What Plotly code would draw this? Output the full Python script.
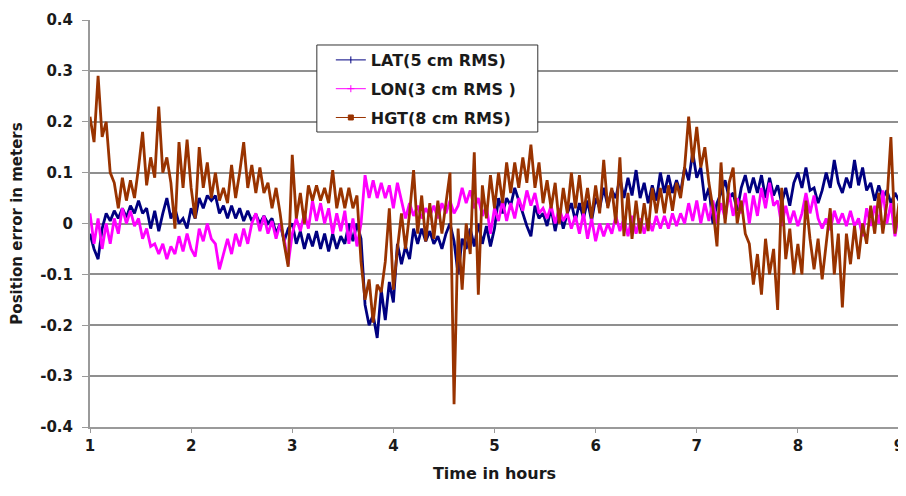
import plotly.graph_objects as go

# Sampling grid (hours) - one reading every 0.04 h
hours = [round(1 + 0.04 * i, 2) for i in range(201)]

lat_err = [
    -0.02, -0.05, -0.07, -0.01, 0.02, 0.005, 0.025, 0.01, 0.03, 0.012,
    0.035, 0.02, 0.045, 0.02, 0.03, -0.01, 0.025, -0.015, 0.02, 0.05,
    0.01, 0.03, 0.0, 0.01, -0.01, 0.03, 0.01, 0.05, 0.03, 0.055,
    0.045, 0.055, 0.02, 0.035, 0.01, 0.035, 0.01, 0.03, 0.005, 0.025,
    0.005, 0.018, 0.0, 0.015, 0.0, 0.01, -0.02, 0.0, -0.035, -0.01,
    0.0, -0.04, -0.015, -0.05, -0.02, -0.045, -0.015, -0.05, -0.02, -0.055,
    -0.02, -0.05, -0.025, -0.04, 0.0, -0.035, 0.0, -0.03, -0.16, -0.2,
    -0.18, -0.225, -0.13, -0.19, -0.115, -0.155, -0.04, -0.08, -0.045, -0.07,
    -0.01, -0.04, -0.01, -0.035, -0.015, -0.04, -0.025, -0.05, -0.02, 0.0,
    -0.035, -0.1, -0.03, -0.05, -0.01, -0.045, 0.0, -0.04, -0.005, -0.045,
    -0.01, 0.05, 0.02, 0.05, 0.035, 0.07, 0.045, 0.02, -0.005, -0.025,
    0.035, 0.01, 0.02, -0.005, 0.03, -0.015, 0.025, -0.01, 0.02, 0.04,
    0.005, 0.04, 0.01, 0.045, 0.005, 0.05, 0.03, 0.07, 0.035, 0.065,
    0.05, 0.09, 0.05, 0.09, 0.055, 0.105, 0.05, 0.08, 0.04, 0.075,
    0.045, 0.1, 0.06, 0.095, 0.06, 0.085, 0.06, 0.11, 0.085, 0.14,
    0.09, 0.11, 0.045, 0.07, 0.0, 0.04, 0.06, 0.085, 0.05, 0.06,
    0.025, 0.07, 0.095, 0.06, 0.09, 0.06, 0.095, 0.05, 0.09, 0.055,
    0.075, 0.04, 0.07, 0.035, 0.08, 0.1, 0.07, 0.11, 0.065, 0.07,
    0.04, 0.065, 0.1, 0.07, 0.125, 0.08, 0.06, 0.09, 0.07, 0.125,
    0.075, 0.11, 0.065, 0.08, 0.045, 0.075, 0.05, 0.065, 0.04, 0.06,
    0.045,
]

lon_err = [
    0.02, -0.04, 0.01, -0.05, 0.0, -0.04, 0.01, -0.02, 0.03, 0.0,
    0.025, -0.005, 0.01, -0.03, -0.01, -0.045, -0.04, -0.06, -0.04, -0.07,
    -0.045, -0.06, -0.025, -0.055, -0.02, -0.05, -0.065, -0.01, -0.035, 0.0,
    -0.03, -0.04, -0.09, -0.06, -0.03, -0.06, -0.02, -0.045, -0.01, -0.04,
    0.0, 0.02, -0.015, 0.015, -0.02, 0.005, -0.03, 0.0, -0.03, -0.08,
    -0.02, 0.01, -0.015, 0.02, -0.01, 0.045, 0.005, 0.04, 0.0, 0.03,
    -0.02, 0.02, -0.015, 0.025, -0.04, 0.01, -0.045, 0.0, 0.095, 0.05,
    0.085, 0.05, 0.08, 0.05, 0.075, 0.03, 0.08, 0.045, 0.01, 0.04,
    0.015, 0.035, 0.01, 0.03, 0.015, 0.035, 0.01, 0.04, 0.02, 0.045,
    0.02, 0.035, 0.07, 0.04, 0.065, 0.03, 0.05, 0.015, 0.035, -0.02,
    0.03, 0.005, 0.045, 0.005, 0.04, 0.01, 0.05, 0.025, 0.065, 0.035,
    0.06, 0.02, 0.03, 0.01, 0.035, 0.0, 0.03, 0.005, 0.02, -0.01,
    0.015, -0.02, 0.02, -0.03, 0.01, -0.035, 0.0, -0.025, 0.0, -0.02,
    0.015, -0.015, 0.01, -0.025, 0.015, -0.02, 0.01, -0.02, 0.01, -0.015,
    0.015, -0.01, 0.015, -0.01, 0.02, -0.005, 0.02, 0.0, 0.04, 0.005,
    0.045, 0.0, 0.04, 0.005, 0.045, 0.0, 0.04, 0.01, 0.06, 0.015,
    0.05, 0.02, 0.06, 0.0, 0.055, 0.015, 0.07, 0.03, 0.08, 0.035,
    0.045, -0.005, 0.035, 0.0, 0.025, -0.005, 0.02, 0.06, 0.02, 0.055,
    0.01, -0.01, 0.01, -0.013, 0.025, 0.0, 0.02, -0.005, 0.025, -0.005,
    0.01, -0.025, 0.03, -0.005, 0.035, 0.0, 0.065, 0.0, 0.04, -0.025,
    0.02,
]

hgt_err = [
    0.21, 0.16, 0.29, 0.17, 0.2, 0.1, 0.08, 0.03, 0.09, 0.045,
    0.085, 0.05, 0.11, 0.18, 0.075, 0.13, 0.09, 0.23, 0.1, 0.13,
    0.08, -0.01, 0.16, 0.07, 0.165, 0.07, 0.01, 0.15, 0.07, 0.12,
    0.05, 0.1, 0.045, 0.07, 0.04, 0.115, 0.05, 0.1, 0.16, 0.07,
    0.115, 0.06, 0.11, 0.06, 0.08, 0.03, 0.07, 0.02, -0.04, -0.085,
    0.135, 0.01, 0.06, 0.0, 0.075, 0.045, 0.075, 0.045, 0.07, 0.04,
    0.105, 0.03, 0.07, 0.03, 0.07, 0.03, 0.055, -0.075, -0.15, -0.11,
    -0.195, -0.12, -0.135, -0.075, 0.03, -0.13, -0.05, 0.02, -0.05, 0.02,
    0.105, -0.02, 0.055, -0.035, 0.04, -0.03, 0.045, -0.02, 0.04, 0.1,
    -0.355, -0.01, -0.13, 0.0, -0.06, 0.14, -0.14, 0.075, 0.01, 0.095,
    0.03, 0.1, 0.04, 0.12, 0.06, 0.12, 0.07, 0.13, 0.08, 0.155,
    0.07, 0.12, 0.04, 0.085, 0.03, 0.08, 0.0, 0.07, 0.02, 0.1,
    0.03, 0.095, 0.02, 0.07, 0.01, 0.075, 0.02, 0.125, 0.03, 0.07,
    0.0, 0.13, -0.025, 0.06, -0.03, 0.045, -0.02, 0.04, -0.015, 0.07,
    0.02, 0.07, 0.02, 0.075, 0.025, 0.08, 0.05, 0.11, 0.21, 0.12,
    0.19, 0.11, 0.15, 0.08, 0.03, -0.045, 0.12, 0.0, 0.08, 0.11,
    0.0, 0.045, -0.02, -0.04, -0.12, -0.06, -0.14, -0.03, -0.1, -0.05,
    -0.17, 0.07, -0.07, -0.01, -0.1, -0.04, -0.1, 0.045, -0.03, -0.09,
    -0.03, -0.11, -0.04, 0.03, -0.1, -0.02, -0.165, -0.02, -0.08, -0.005,
    -0.07, 0.0, -0.04, 0.035, -0.02, 0.06, -0.02, 0.04, 0.17, -0.02,
    0.04,
]

series_names = ["LAT(5 cm RMS)", "LON(3 cm RMS )", "HGT(8 cm RMS)"]
series_values = [lat_err, lon_err, hgt_err]
series_colors = ["#000080", "#FF00FF", "#993300"]
legend_symbols = ["line-ns", "cross-thin", "square"]

x_ticks = [1, 2, 3, 4, 5, 6, 7, 8, 9]
x_tick_text = ["1", "2", "3", "4", "5", "6", "7", "8", "9"]
y_ticks = [-0.4, -0.3, -0.2, -0.1, 0, 0.1, 0.2, 0.3, 0.4]
y_tick_text = ["-0.4", "-0.3", "-0.2", "-0.1", "0", "0.1", "0.2", "0.3", "0.4"]

FONT = "DejaVu Sans"
TXT = "#1a1a1a"

fig = go.Figure()
for name, vals, col in zip(series_names, series_values, series_colors):
    fig.add_trace(go.Scatter(
        x=hours, y=vals, mode="lines", name=name,
        line=dict(color=col, width=2.8),
        showlegend=False, hoverinfo="skip",
    ))
for i, (name, col, sym) in enumerate(zip(series_names, series_colors, legend_symbols)):
    fig.add_trace(go.Scatter(
        x=[None], y=[None], mode="lines+markers", name=name,
        line=dict(color=col, width=1),
        marker=dict(symbol=sym, size=5, color=col, line=dict(color=col, width=1)),
        legendgroup="g%d" % i,
    ))

# legend frame (Excel-style box, larger than plotly's own legend box)
fig.add_shape(type="rect", xref="paper", yref="paper",
              x0=0.2804, x1=0.5535, y0=0.7248, y1=0.9386,
              line=dict(color="#333333", width=1), fillcolor="white", layer="above")

# page body adds an 8 px offset; size and margins compensate for it
fig.update_layout(
    width=898, height=488,
    margin=dict(l=82, r=7, t=12, b=69),
    paper_bgcolor="white", plot_bgcolor="white",
    font=dict(family=FONT, size=15, color=TXT, weight="bold"),
    legend=dict(
        x=0.2977, y=0.9435, xanchor="left", yanchor="top",
        bgcolor="rgba(0,0,0,0)", borderwidth=0,
        font=dict(family=FONT, size=16, color=TXT, weight="bold"),
        tracegroupgap=5, itemwidth=30,
    ),
    xaxis=dict(
        range=[1, 9], tickvals=x_ticks, ticktext=x_tick_text,
        showgrid=False, zeroline=False, automargin=False,
        showline=True, linecolor="#9a9a9a", linewidth=2,
        ticks="outside", ticklen=4, tickcolor="#9a9a9a",
        ticklabeloverflow="allow",
        tickfont=dict(family=FONT, size=15, color=TXT, weight="bold"),
        title=dict(text="Time in hours", standoff=14,
                   font=dict(family=FONT, size=16, color=TXT, weight="bold")),
    ),
    yaxis=dict(
        range=[-0.4, 0.4], tickvals=y_ticks, ticktext=y_tick_text,
        showgrid=True, gridcolor="#8f8f8f", gridwidth=1.5,
        zeroline=False, automargin=False,
        showline=True, linecolor="#9a9a9a", linewidth=2, mirror=True,
        ticks="outside", ticklen=6, tickcolor="#9a9a9a",
        ticklabelstandoff=6,
        tickfont=dict(family=FONT, size=15, color=TXT, weight="bold"),
        title=dict(text="Position error in meters", standoff=14,
                   font=dict(family=FONT, size=15, color=TXT, weight="bold")),
    ),
)

fig.write_html("out.html")
